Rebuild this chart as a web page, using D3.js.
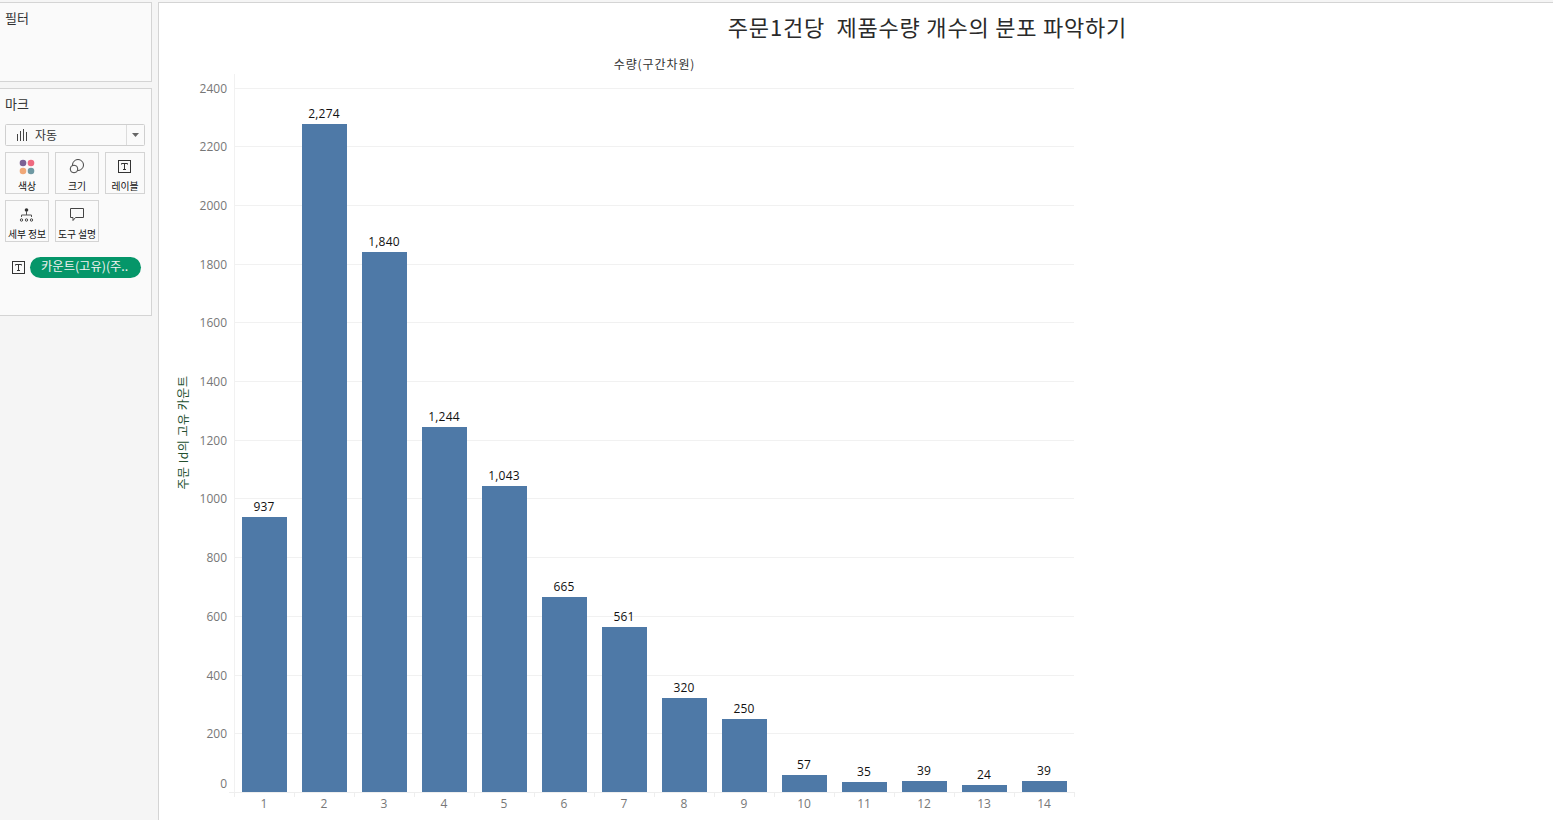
<!DOCTYPE html>
<html>
<head>
<meta charset="utf-8">
<script src="https://cdn.jsdelivr.net/npm/d3@7"></script>
<style>
  html, body { margin: 0; padding: 0; background: #f5f5f5; overflow: hidden; }
  svg { display: block; }
  text { font-family: "Open Sans", "Noto Sans CJK KR", sans-serif; }
  .kr { font-family: "Noto Sans CJK KR", sans-serif; }
</style>
</head>
<body>
<script>
let w = 1553;
let h = 820;

let titleText = "주문1건당  제품수량 개수의 분포 파악하기";
let xTitle = "수량(구간차원)";
let yTitle = "주문 Id의 고유 카운트";

let categories = ["1", "2", "3", "4", "5", "6", "7", "8", "9", "10", "11", "12", "13", "14"];
let counts = [937, 2274, 1840, 1244, 1043, 665, 561, 320, 250, 57, 35, 39, 24, 39];
let yTicks = [0, 200, 400, 600, 800, 1000, 1200, 1400, 1600, 1800, 2000, 2200, 2400];

let dotColors = ["#7b6294", "#ee6a80", "#f0a878", "#6f99a3"];

let xScale = d3.scaleBand()
  .domain(categories)
  .range([234.5, 1074.5])
  .paddingInner(0.25)
  .paddingOuter(0.125);

let yScale = d3.scaleLinear()
  .domain([0, 2400])
  .range([792.45, 88]);

// snap to whole pixels so bars and gridlines stay crisp
let yPx = d => Math.floor(yScale(d));

let svg = d3.select("body")
  .append("svg")
  .attr("width", w)
  .attr("height", h);

//Sidebar and view background
svg.append("rect").attr("width", w).attr("height", h).attr("fill", "#f5f5f5");
svg.append("rect").attr("x", 158.5).attr("y", 2.5).attr("width", w).attr("height", h)
  .attr("fill", "white").attr("stroke", "#d4d4d4");

function panel(y, height) {
  svg.append("rect").attr("x", -2).attr("y", y + 0.5).attr("width", 153.5).attr("height", height)
    .attr("fill", "#fafafa").attr("stroke", "#d4d4d4");
}
panel(2, 79);
panel(88, 227);

function label(x, y, txt, size, color, anchor) {
  return svg.append("text").attr("class", "kr")
    .attr("x", x).attr("y", y)
    .attr("font-size", size)
    .attr("fill", color || "#333")
    .attr("text-anchor", anchor || "start")
    .text(txt);
}
label(5, 22.5, "필터", 13);
label(5, 108.5, "마크", 13);

//Mark type dropdown
svg.append("rect").attr("x", 5.5).attr("y", 124.5).attr("width", 139).attr("height", 21)
  .attr("rx", 1).attr("fill", "#fafafa").attr("stroke", "#cfcfcf");
svg.append("line").attr("x1", 126.5).attr("x2", 126.5).attr("y1", 125).attr("y2", 145).attr("stroke", "#dcdcdc");
svg.append("path").attr("d", "M132 133h7l-3.5 4z").attr("fill", "#666");
[[17, 134], [20, 131], [23, 129], [26, 132]].forEach(function(d) {
  svg.append("line").attr("x1", d[0] + 0.5).attr("x2", d[0] + 0.5).attr("y1", d[1]).attr("y2", 141)
    .attr("stroke", "#444");
});
label(35, 140, "자동", 12);

//Mark cards
let cards = [
  {x: 5, y: 152, w: 43, name: "색상"},
  {x: 55, y: 152, w: 43, name: "크기"},
  {x: 105, y: 152, w: 39, name: "레이블"},
  {x: 5, y: 200, w: 43, name: "세부 정보"},
  {x: 55, y: 200, w: 43, name: "도구 설명"}
];
cards.forEach(function(c) {
  svg.append("rect").attr("x", c.x + 0.5).attr("y", c.y + 0.5).attr("width", c.w).attr("height", 41)
    .attr("fill", "#fafafa").attr("stroke", "#d4d4d4");
  label(c.x + c.w / 2 + 0.5, c.y + 38, c.name, 9.8, "#111", "middle");
});

//Card icons
[[23, 163], [31, 163], [23, 171], [31, 171]].forEach(function(d, i) {
  svg.append("circle").attr("cx", d[0]).attr("cy", d[1]).attr("r", 3.3).attr("fill", dotColors[i]);
});
svg.append("circle").attr("cx", 78).attr("cy", 165).attr("r", 5.5).attr("fill", "none").attr("stroke", "#444");
svg.append("circle").attr("cx", 74).attr("cy", 169).attr("r", 3.8).attr("fill", "#fafafa").attr("stroke", "#444");

function tIcon(x, y) {
  svg.append("rect").attr("x", x + 0.5).attr("y", y + 0.5).attr("width", 12).attr("height", 12)
    .attr("fill", "none").attr("stroke", "#333");
  svg.append("path").attr("d", "M" + (x + 3.5) + " " + (y + 4.5) + "v-1h6v1M" + (x + 6.5) + " " + (y + 3.5) + "v6M" + (x + 5) + " " + (y + 9.5) + "h3")
    .attr("fill", "none").attr("stroke", "#333");
}
tIcon(118, 160);
tIcon(12, 261);

svg.append("circle").attr("cx", 26.5).attr("cy", 210).attr("r", 1.8).attr("fill", "#333");
svg.append("path").attr("d", "M26.5 211v4M21.5 217v-2h10v2").attr("fill", "none").attr("stroke", "#555");
[21.5, 26.5, 31.5].forEach(function(x) {
  svg.append("circle").attr("cx", x).attr("cy", 220).attr("r", 1.2).attr("fill", "none").attr("stroke", "#444");
});
svg.append("path").attr("d", "M70.5 208.5h13v9h-8l-2.5 3v-3h-2.5z").attr("fill", "none").attr("stroke", "#444");

//Green pill
svg.append("rect").attr("x", 30).attr("y", 257).attr("width", 111).attr("height", 21).attr("rx", 10.5)
  .attr("fill", "#059669");
label(41, 271, "카운트(고유)(주..", 12.3, "#f2f2f2");

//Gridlines
svg.append("g").selectAll("line")
  .data(yTicks.filter(d => d > 0))
  .enter()
  .append("line")
  .attr("x1", 234)
  .attr("x2", 1074)
  .attr("y1", d => yPx(d) + 0.5)
  .attr("y2", d => yPx(d) + 0.5)
  .attr("stroke", "#f1f1f1");

//Axis rules
svg.append("line").attr("x1", 234.5).attr("x2", 234.5).attr("y1", 74).attr("y2", 797).attr("stroke", "#f1f1f1");
svg.append("line").attr("x1", 229).attr("x2", 1074).attr("y1", 792.5).attr("y2", 792.5).attr("stroke", "#eeeeee");
svg.append("g").selectAll("line")
  .data(d3.range(categories.length + 1))
  .enter()
  .append("line")
  .attr("x1", d => 234.5 + d * xScale.step())
  .attr("x2", d => 234.5 + d * xScale.step())
  .attr("y1", 792)
  .attr("y2", 797)
  .attr("stroke", "#eeeeee");

//Create bars
svg.append("g").selectAll("rect")
  .data(counts)
  .enter()
  .append("rect")
  .attr("x", (_, i) => Math.floor(xScale(categories[i])))
  .attr("y", d => yPx(d))
  .attr("width", xScale.bandwidth())
  .attr("height", d => yPx(0) - yPx(d))
  .attr("fill", "#4e79a7");

//Bar labels
svg.append("g").selectAll("text")
  .data(counts)
  .enter()
  .append("text")
  .text(d => d3.format(",")(d))
  .attr("x", (_, i) => xScale(categories[i]) + xScale.bandwidth() / 2 - 0.5)
  .attr("y", d => yPx(d) - 6)
  .attr("text-anchor", "middle")
  .attr("font-size", "12px")
  .attr("letter-spacing", "0.2")
  .attr("fill", "#111");

//Y tick labels, the 0 sits higher so it stays clear of the axis end
svg.append("g").selectAll("text")
  .data(yTicks)
  .enter()
  .append("text")
  .text(d => d)
  .attr("x", 227)
  .attr("y", d => d === 0 ? 787.5 : yPx(d) + 4.5)
  .attr("text-anchor", "end")
  .attr("font-size", "12px")
  .attr("fill", "#777");

//X tick labels
svg.append("g").selectAll("text")
  .data(categories)
  .enter()
  .append("text")
  .text(d => d)
  .attr("x", d => xScale(d) + xScale.bandwidth() / 2 - 0.5)
  .attr("y", 808)
  .attr("text-anchor", "middle")
  .attr("font-size", "12px")
  .attr("fill", "#777");

//Titles
label(927.5, 36, titleText, 22, "#2a2a2a", "middle")
  .attr("letter-spacing", "0.8")
  .style("white-space", "pre");
label(654.5, 69, xTitle, 12, "#333", "middle").attr("letter-spacing", "0.9");
label(0, 0, yTitle, 12, "#24502f", "middle")
  .attr("letter-spacing", "0.5")
  .attr("transform", "translate(188,432.5) rotate(-90)");
</script>
</body>
</html>
